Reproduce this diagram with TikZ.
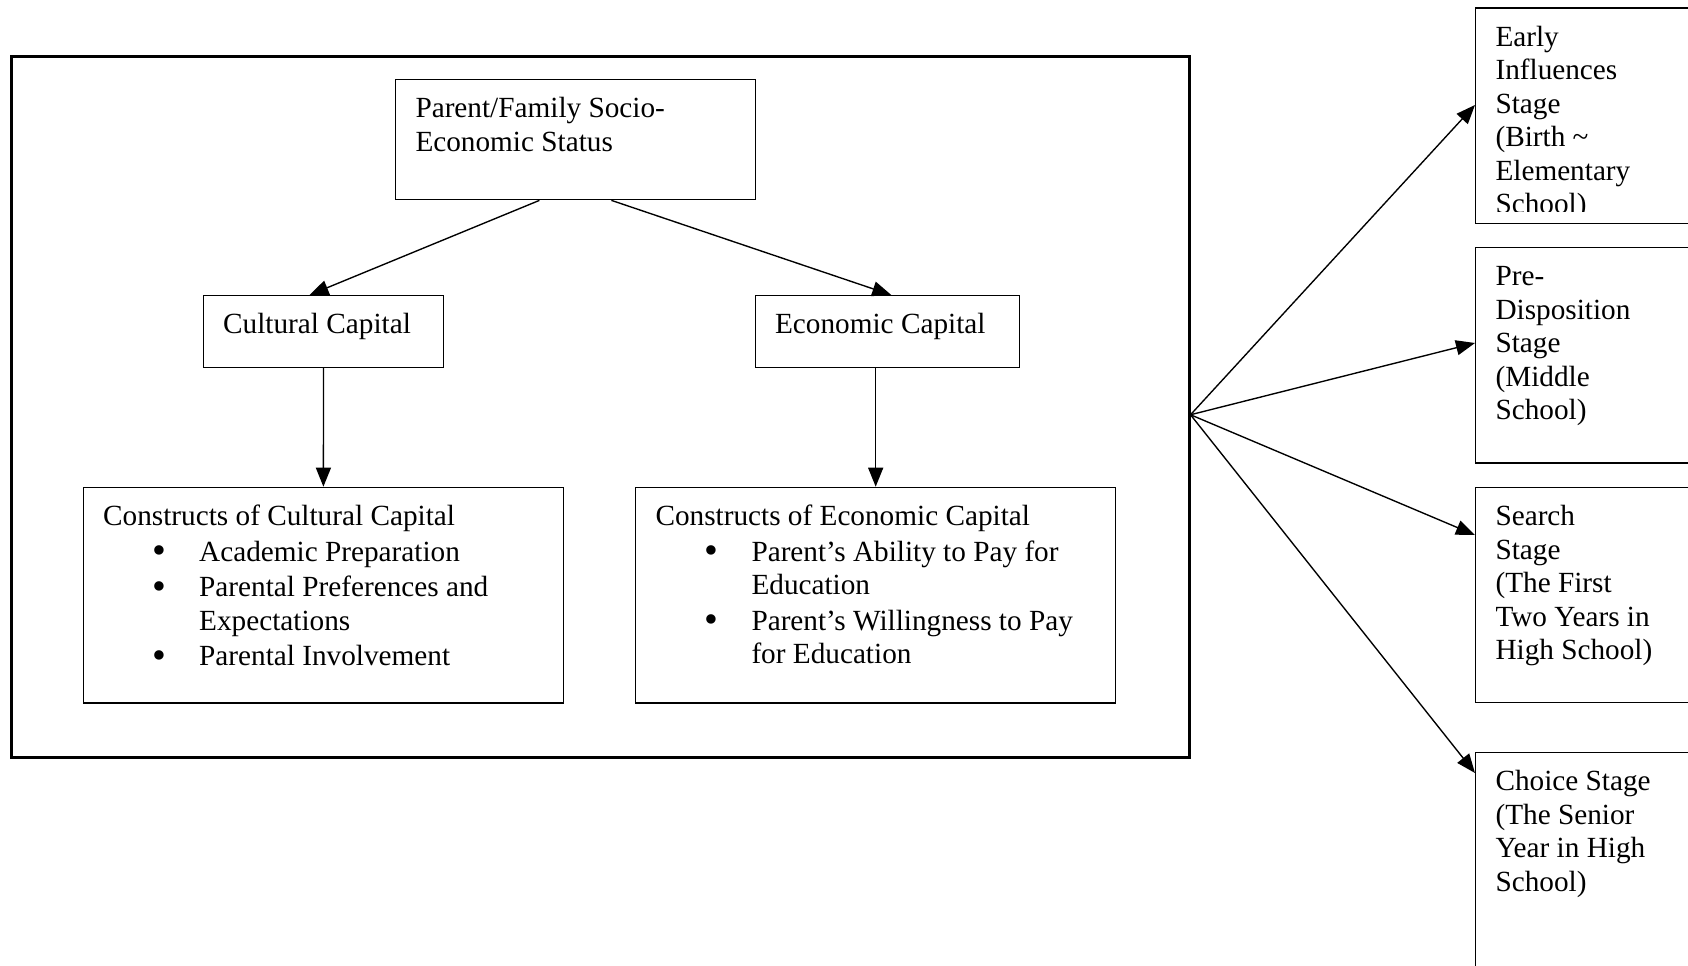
\documentclass[tikz,border=0pt]{standalone}
\usepackage{fontspec}
\setmainfont{Liberation Serif}
\usetikzlibrary{arrows.meta}

\tikzset{
  box/.style={draw, line width=0.55pt, anchor=north west, inner sep=0pt},
  txt/.style={anchor=north west, inner sep=0pt, align=left},
  arr/.style={-{Triangle[length=7.6pt,width=6pt]}, line width=0.55pt},
}
\newcommand{\bul}[1]{\hspace*{19.6pt}\makebox[18.8pt][l]{\raisebox{-1pt}{\scalebox{1.35}{\textbullet}}}#1}
\newcommand{\cont}[1]{\hspace*{38.4pt}#1}

\begin{document}
\begin{tikzpicture}[x=0.4pt, y=-0.4pt,
    every node/.style={font=\fontsize{11.7}{13.4}\selectfont}]
  \useasboundingbox (0,0) rectangle (1688,966);
  % outer frame
  \node[box, line width=1.1pt, minimum width=471.1pt, minimum height=280.3pt] (frame) at (10,55) {};
  % socio-economic status
  \node[box, minimum width=143.8pt, minimum height=48pt] (ses) at (395,79) {};
  \node[txt] (sestxt) at ([shift={(20,15)}]ses.north west) {\strut Parent/Family Socio-\\Economic Status};
  % the two capitals
  \node[box, minimum width=96.1pt, minimum height=28.7pt] (cult) at (202.7,295) {};
  \node[txt] (culttxt) at ([shift={(20,15)}]cult.north west) {\strut Cultural Capital};
  \node[box, minimum width=105.6pt, minimum height=28.7pt] (econ) at (754.6,295) {};
  \node[txt] (econtxt) at ([shift={(20,15)}]econ.north west) {\strut Economic Capital};
  % constructs
  \node[box, minimum width=192pt, minimum height=86.3pt] (ccons) at (82.7,486.7) {};
  \node[txt] (cconstxt) at ([shift={(20,15)}]ccons.north west) {\strut Constructs of Cultural Capital\\[0.8pt]
    \bul{Academic Preparation}\\[0.8pt]
    \bul{Parental Preferences and}\\
    \cont{Expectations}\\[0.8pt]
    \bul{Parental Involvement}};
  \node[box, minimum width=192pt, minimum height=86.3pt] (econs) at (635,486.7) {};
  \node[txt] (econstxt) at ([shift={(20,15)}]econs.north west) {\strut Constructs of Economic Capital\\[0.8pt]
    \bul{Parent’s Ability to Pay for}\\
    \cont{Education}\\[0.8pt]
    \bul{Parent’s Willingness to Pay}\\
    \cont{for Education}};
  % arrows inside the frame
  \draw[arr] ([shift={(-36,0)}]ses.south) -- ([shift={(-14,0)}]cult.north);
  \draw[arr] ([shift={(36,0)}]ses.south) -- ([shift={(4,0)}]econ.north);
  \draw[arr] (cult.south) -- (ccons.north);
  \draw[arr] (econs.north |- econ.south) -- (econs.north);
  % stages (cut off at the right edge)
  \node[box, minimum width=94pt, minimum height=86.2pt] (early) at (1475,7.3) {};
  \begin{scope}
    \clip (early.north west) rectangle ([shift={(0,-13)}]early.south east);
    \node[txt] (earlytxt) at ([shift={(20,15)}]early.north west) {\strut Early\\Influences\\Stage\\(Birth \textasciitilde\\Elementary\\School)};
  \end{scope}
  \node[box, minimum width=94pt, minimum height=86.2pt] (predisp) at (1475,246.7) {};
  \node[txt] (predisptxt) at ([shift={(20,15)}]predisp.north west) {\strut Pre-\\Disposition\\Stage\\(Middle\\School)};
  \node[box, minimum width=94pt, minimum height=86.1pt] (search) at (1475,486.7) {};
  \node[txt] (searchtxt) at ([shift={(20,15)}]search.north west) {\strut Search\\Stage\\(The First\\Two Years in\\High School)};
  \node[box, minimum width=94pt, minimum height=96pt] (choice) at (1475,751.7) {};
  \node[txt] (choicetxt) at ([shift={(20,15)}]choice.north west) {\strut Choice Stage\\(The Senior\\Year in High\\School)};
  % fan of arrows to the stages
  \coordinate (hub) at ([shift={(0,8)}]frame.east);
  \draw[arr] (hub) -- ([shift={(0,97.7)}]early.north west);
  \draw[arr] (hub) -- ([shift={(0,96.3)}]predisp.north west);
  \draw[arr] (hub) -- ([shift={(0,48.3)}]search.north west);
  \draw[arr] (hub) -- ([shift={(0,21.3)}]choice.north west);
\end{tikzpicture}
\end{document}
